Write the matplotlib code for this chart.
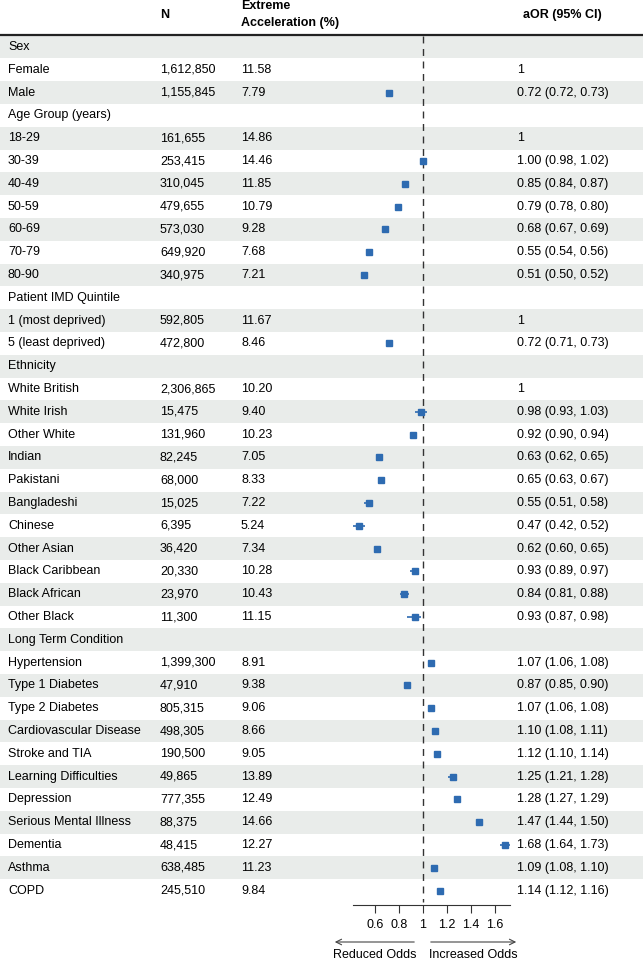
import matplotlib.pyplot as plt
from matplotlib.patches import Rectangle

plt.rcParams['font.family'] = ['Liberation Sans', 'DejaVu Sans']

# rows of the table; header rows have None for n / pct
labels = ['Sex', 'Female', 'Male',
          'Age Group (years)', '18-29', '30-39', '40-49', '50-59', '60-69', '70-79', '80-90',
          'Patient IMD Quintile', '1 (most deprived)', '5 (least deprived)',
          'Ethnicity', 'White British', 'White Irish', 'Other White', 'Indian', 'Pakistani',
          'Bangladeshi', 'Chinese', 'Other Asian', 'Black Caribbean', 'Black African', 'Other Black',
          'Long Term Condition', 'Hypertension', 'Type 1 Diabetes', 'Type 2 Diabetes',
          'Cardiovascular Disease', 'Stroke and TIA', 'Learning Difficulties', 'Depression',
          'Serious Mental Illness', 'Dementia', 'Asthma', 'COPD']
n_vals = [None, 1612850, 1155845,
          None, 161655, 253415, 310045, 479655, 573030, 649920, 340975,
          None, 592805, 472800,
          None, 2306865, 15475, 131960, 82245, 68000, 15025, 6395, 36420, 20330, 23970, 11300,
          None, 1399300, 47910, 805315, 498305, 190500, 49865, 777355, 88375, 48415, 638485, 245510]
pct_vals = [None, 11.58, 7.79,
            None, 14.86, 14.46, 11.85, 10.79, 9.28, 7.68, 7.21,
            None, 11.67, 8.46,
            None, 10.20, 9.40, 10.23, 7.05, 8.33, 7.22, 5.24, 7.34, 10.28, 10.43, 11.15,
            None, 8.91, 9.38, 9.06, 8.66, 9.05, 13.89, 12.49, 14.66, 12.27, 11.23, 9.84]
# 'ref' marks reference category (aOR = 1, no marker)
aor = [None, 'ref', 0.72,
       None, 'ref', 1.00, 0.85, 0.79, 0.68, 0.55, 0.51,
       None, 'ref', 0.72,
       None, 'ref', 0.98, 0.92, 0.63, 0.65, 0.55, 0.47, 0.62, 0.93, 0.84, 0.93,
       None, 1.07, 0.87, 1.07, 1.10, 1.12, 1.25, 1.28, 1.47, 1.68, 1.09, 1.14]
ci_lo = [None, None, 0.72,
         None, None, 0.98, 0.84, 0.78, 0.67, 0.54, 0.50,
         None, None, 0.71,
         None, None, 0.93, 0.90, 0.62, 0.63, 0.51, 0.42, 0.60, 0.89, 0.81, 0.87,
         None, 1.06, 0.85, 1.06, 1.08, 1.10, 1.21, 1.27, 1.44, 1.64, 1.08, 1.12]
ci_hi = [None, None, 0.73,
         None, None, 1.02, 0.87, 0.80, 0.69, 0.56, 0.52,
         None, None, 0.73,
         None, None, 1.03, 0.94, 0.65, 0.67, 0.58, 0.52, 0.65, 0.97, 0.88, 0.98,
         None, 1.08, 0.90, 1.08, 1.11, 1.14, 1.28, 1.29, 1.50, 1.73, 1.10, 1.16]
xticks = [0.6, 0.8, 1, 1.2, 1.4, 1.6]

W, H = 643, 960
fig = plt.figure(figsize=(W / 100, H / 100), dpi=100)

# background axes in pixel units for the table part
ax = fig.add_axes([0, 0, 1, 1])
ax.set_xlim(0, W)
ax.set_ylim(H, 0)
ax.axis('off')

top = 35.6
row_h = 22.8
nrows = len(labels)
col_edges = [0, 155, 233, 353, 510, W]
shade = '#e9ecea'
fs = 9

for i in range(nrows):
    y0 = top + i * row_h
    yc = y0 + row_h / 2
    if i % 2 == 0:
        for a, b in zip(col_edges[:-1], col_edges[1:]):
            ax.add_patch(Rectangle((a + 0.4, y0), b - a - 0.8, row_h,
                                   facecolor=shade, edgecolor='none', zorder=0))
    ax.text(8, yc, labels[i], fontsize=fs, va='center', ha='left')
    if n_vals[i] is not None:
        ax.text(160, yc, f'{n_vals[i]:,}', fontsize=fs, va='center', ha='left')
        ax.text(241, yc, f'{pct_vals[i]:.2f}', fontsize=fs, va='center', ha='left')
    if aor[i] == 'ref':
        ax.text(517, yc, '1', fontsize=fs, va='center', ha='left')
    elif aor[i] is not None:
        ax.text(517, yc, f'{aor[i]:.2f} ({ci_lo[i]:.2f}, {ci_hi[i]:.2f})',
                fontsize=fs, va='center', ha='left')

# header
ax.text(160, 15, 'N', fontsize=fs, fontweight='bold', va='center', ha='left')
ax.text(241, 6, 'Extreme', fontsize=fs, fontweight='bold', va='center', ha='left')
ax.text(241, 23, 'Acceleration (%)', fontsize=fs, fontweight='bold', va='center', ha='left')
ax.text(523, 15, 'aOR (95% CI)', fontsize=fs, fontweight='bold', va='center', ha='left')
ax.plot([0, W], [34.8, 34.8], color='#222222', lw=1.6, solid_capstyle='butt')

# forest plot axes
fx0, fx1 = 353, 510
fy_top, fy_bot = 35.6, 905
fax = fig.add_axes([fx0 / W, 1 - fy_bot / H, (fx1 - fx0) / W, (fy_bot - fy_top) / H])
fax.patch.set_alpha(0)
fax.set_xlim(0.417, 1.725)
fax.set_ylim((fy_bot - top) / row_h - 0.5, -0.5)
for s in ['top', 'left', 'right']:
    fax.spines[s].set_visible(False)
fax.spines['bottom'].set_color('#333333')
fax.spines['bottom'].set_linewidth(0.8)
fax.set_yticks([])
fax.set_xticks(xticks)
fax.set_xticklabels(['0.6', '0.8', '1', '1.2', '1.4', '1.6'], fontsize=fs)
fax.tick_params(axis='x', length=6, width=0.8, color='#333333', pad=4)

fax.plot([1, 1], [-0.5, nrows - 0.5], color='#333333', lw=1, ls=(0, (5, 4)), zorder=1)

ys = [i for i in range(nrows) if isinstance(aor[i], float)]
xs = [aor[i] for i in ys]
lo = [aor[i] - ci_lo[i] for i in ys]
hi = [ci_hi[i] - aor[i] for i in ys]
fax.errorbar(xs, ys, xerr=[lo, hi], fmt='s', color='#2e6bb1', ms=4.5,
             elinewidth=1.2, capsize=0, zorder=3)

# direction arrows
ax.annotate('', xy=(332, 942), xytext=(417, 942),
            arrowprops=dict(arrowstyle='->', color='#444444', lw=0.8))
ax.annotate('', xy=(519, 942), xytext=(428, 942),
            arrowprops=dict(arrowstyle='->', color='#444444', lw=0.8))
ax.text(375, 955, 'Reduced Odds', fontsize=fs, ha='center', va='center')
ax.text(473, 955, 'Increased Odds', fontsize=fs, ha='center', va='center')

fig.savefig('out.png', dpi=100)
